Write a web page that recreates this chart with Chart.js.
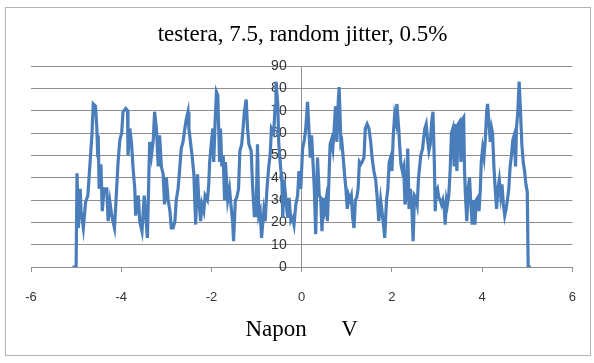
<!DOCTYPE html>
<html>
<head>
<meta charset="utf-8">
<script src="https://cdn.jsdelivr.net/npm/chart.js@4.4.1/dist/chart.umd.min.js"></script>
<style>
body { margin: 0; background: #fff; }
#wrap { position: relative; width: 594px; height: 363px; }
#frame { position: absolute; left: 5px; top: 7px; width: 584px; height: 347px; border: 1px solid #b4b4b4; pointer-events: none; }
</style>
</head>
<body>
<div id="wrap">
  <canvas id="cht" width="594" height="363"></canvas>
  <div id="frame"></div>
</div>
<script>
// napon (V) i broj odbroja, ocitano sa slike
const voltage = [
  -5.08, -5.00, -4.98, -4.95, -4.91, -4.89, -4.84, -4.79, -4.74, -4.69, -4.65, -4.62, -4.57, -4.54, -4.52, -4.51,
  -4.49, -4.45, -4.42, -4.38, -4.32, -4.29, -4.25, -4.21, -4.15, -4.12, -4.07, -4.03, -3.99, -3.96, -3.90, -3.86,
  -3.85, -3.81, -3.77, -3.74, -3.70, -3.68, -3.62, -3.59, -3.54, -3.49, -3.42, -3.40, -3.37, -3.33, -3.29, -3.26,
  -3.22, -3.18, -3.15, -3.11, -3.07, -3.04, -3.00, -2.96, -2.92, -2.89, -2.85, -2.81, -2.78, -2.74, -2.70, -2.67,
  -2.63, -2.59, -2.56, -2.52, -2.50, -2.46, -2.43, -2.39, -2.37, -2.35, -2.31, -2.28, -2.24, -2.21, -2.17, -2.14,
  -2.09, -2.06, -2.04, -2.00, -1.97, -1.95, -1.92, -1.89, -1.86, -1.84, -1.82, -1.80, -1.77, -1.74, -1.71, -1.69,
  -1.67, -1.64, -1.60, -1.56, -1.53, -1.51, -1.47, -1.44, -1.40, -1.37, -1.33, -1.30, -1.27, -1.23, -1.20, -1.17,
  -1.12, -1.09, -1.05, -1.01, -0.98, -0.95, -0.92, -0.89, -0.84, -0.81, -0.77, -0.73, -0.70, -0.67, -0.62, -0.59,
  -0.57, -0.53, -0.51, -0.49, -0.46, -0.44, -0.42, -0.39, -0.35, -0.31, -0.28, -0.24, -0.20, -0.17, -0.13, -0.09,
  -0.06, -0.02, 0.02, 0.06, 0.09, 0.13, 0.16, 0.19, 0.22, 0.25, 0.28, 0.31, 0.35, 0.39, 0.42, 0.45,
  0.48, 0.51, 0.54, 0.57, 0.60, 0.63, 0.66, 0.69, 0.72, 0.75, 0.78, 0.81, 0.83, 0.87, 0.89, 0.92,
  0.95, 0.98, 1.01, 1.04, 1.07, 1.10, 1.13, 1.16, 1.19, 1.22, 1.25, 1.28, 1.31, 1.34, 1.38, 1.41,
  1.45, 1.49, 1.53, 1.56, 1.60, 1.64, 1.67, 1.71, 1.75, 1.78, 1.82, 1.84, 1.88, 1.91, 1.94, 1.97,
  2.00, 2.03, 2.06, 2.09, 2.11, 2.15, 2.17, 2.20, 2.23, 2.26, 2.29, 2.32, 2.35, 2.38, 2.41, 2.44,
  2.47, 2.50, 2.53, 2.56, 2.59, 2.62, 2.64, 2.68, 2.70, 2.73, 2.76, 2.79, 2.82, 2.85, 2.88, 2.91,
  2.94, 2.96, 2.98, 3.01, 3.04, 3.07, 3.10, 3.13, 3.16, 3.18, 3.21, 3.23, 3.26, 3.29, 3.32, 3.35,
  3.38, 3.41, 3.44, 3.47, 3.50, 3.53, 3.56, 3.59, 3.61, 3.63, 3.66, 3.69, 3.72, 3.75, 3.78, 3.81,
  3.84, 3.87, 3.90, 3.93, 3.96, 3.98, 4.01, 4.04, 4.07, 4.10, 4.12, 4.15, 4.18, 4.21, 4.23, 4.26,
  4.29, 4.32, 4.35, 4.38, 4.41, 4.44, 4.47, 4.50, 4.53, 4.56, 4.59, 4.62, 4.65, 4.68, 4.71, 4.74,
  4.76, 4.79, 4.82, 4.85, 4.88, 4.91, 4.94, 4.97, 5.00, 5.02, 5.08
];
const counts = [
  0, 0, 42, 17.5, 35, 25, 17.5, 29, 32, 47, 59, 73, 72, 62, 49, 59,
  35, 46, 25, 35, 35, 20.5, 29, 23, 17.5, 28, 47, 57, 60, 69.5, 71, 70,
  50, 62, 55, 45, 35, 23, 32, 20.5, 16, 32, 13, 30, 56, 50, 57, 69.5,
  62, 45, 59, 45, 41.5, 28, 40, 30, 25, 17.5, 17.5, 20.5, 30, 35, 45, 53,
  56, 62, 66, 69.5, 62, 55, 50, 41.5, 30, 19, 41.5, 30, 20.5, 28, 25, 32,
  30, 37, 47, 56, 62, 47, 64.5, 78.5, 77, 62, 47, 62, 45, 50, 30, 47,
  40, 30, 35, 26, 20, 11.6, 30, 31, 35, 52, 55, 62, 69.5, 75, 62, 55,
  52, 37, 23, 23, 55, 23, 25, 13, 25, 20.5, 35, 45, 50, 62, 60, 72,
  83, 73, 56, 50, 43, 40, 22, 39, 30, 22, 31, 20.5, 22, 19, 28, 32,
  43, 35, 53, 57, 62, 74, 62, 49, 59, 47, 35, 14.7, 49, 32, 31, 16,
  31, 26, 30, 20.5, 37, 55, 57, 53, 62, 72, 56, 74, 80.6, 55, 56, 49,
  41.5, 35, 26, 32, 30, 32, 22, 17.5, 30, 31, 35, 47, 46, 47, 49, 62,
  64, 62, 56, 49, 43, 39, 32, 20.5, 30, 25, 17.5, 13, 30, 35, 47, 49,
  43, 59, 68, 65, 73, 62, 55, 46, 43, 45, 28, 32, 53, 26, 35, 28,
  11.6, 32, 31, 28, 40, 46, 50, 53, 57, 62, 64, 57, 52, 55, 65, 69.5,
  47, 25, 33.6, 35, 31, 30, 28, 30, 26, 19, 30, 28, 32, 43, 60, 62,
  45, 64, 43, 64, 65, 47, 66, 67, 43, 32, 20.5, 35, 40, 28, 19, 30,
  19, 30, 31, 25, 35, 47, 53, 49, 57, 69.5, 73, 65, 56, 62, 60, 45,
  35, 26, 35, 39, 32, 37, 28, 23, 26, 30, 35, 45, 50, 57, 59, 45,
  62, 69.5, 83, 69.5, 55, 47, 43, 37, 33.6, 0, 0
];
const xTicks = [-6, -4, -2, 0, 2, 4, 6];
const yTicks = [0, 10, 20, 30, 40, 50, 60, 70, 80, 90];

const points = voltage.map((v, i) => ({ x: v, y: counts[i] }));
const gridGray = '#8f8f8f';
const labelFont = { family: 'Liberation Sans', size: 13 };

// oznake y ose levo od ose na x = 0 (Chart.js tu ne primenjuje padding)
const yLabelPlugin = {
  id: 'yLabels',
  beforeDatasetsDraw(c) {
    const ctx = c.ctx;
    const xs = c.scales.x, ys = c.scales.y;
    const x0 = xs.getPixelForValue(0) - 15;
    ctx.save();
    ctx.font = '14px "Liberation Sans"';
    ctx.fillStyle = '#333';
    ctx.textAlign = 'right';
    ctx.textBaseline = 'middle';
    yTicks.forEach(v => ctx.fillText(String(v), x0, ys.getPixelForValue(v)));
    ctx.restore();
  }
};

const cht = document.getElementById('cht');
const chart = new Chart(cht, {
  type: 'scatter',
  data: {
    datasets: [{
      data: points,
      showLine: true,
      borderColor: '#4a7ebb',
      borderWidth: 3.2,
      pointRadius: 0,
      tension: 0
    }]
  },
  options: {
    responsive: false,
    animation: false,
    layout: { padding: { left: 31, right: 20, top: 0, bottom: 0 } },
    plugins: {
      legend: { display: false },
      tooltip: { enabled: false },
      title: {
        display: true,
        text: 'testera, 7.5, random jitter, 0.5%',
        color: '#000',
        font: { family: 'Liberation Serif', size: 23, weight: 'normal' },
        padding: { top: 21, bottom: 17.4 }
      }
    },
    scales: {
      x: {
        type: 'linear',
        min: -6,
        max: 6,
        afterBuildTicks: s => { s.ticks = xTicks.map(v => ({ value: v })); },
        afterFit: s => { s.height = 96; },
        grid: { drawOnChartArea: false, drawTicks: true, tickLength: 5, color: gridGray },
        border: { display: true, color: gridGray },
        ticks: { color: '#333', font: labelFont, padding: 18, maxRotation: 0 },
        title: {
          display: true,
          text: 'Napon      V',
          color: '#000',
          font: { family: 'Liberation Serif', size: 23, weight: 'normal' },
          padding: { top: 0, bottom: 19 }
        }
      },
      y: {
        type: 'linear',
        position: { x: 0 },
        min: 0,
        max: 90,
        afterBuildTicks: s => { s.ticks = yTicks.map(v => ({ value: v })); },
        grid: { color: gridGray, drawTicks: false },
        border: { display: true, color: gridGray },
        ticks: { display: false }
      }
    }
  },
  plugins: [yLabelPlugin]
});
</script>
</body>
</html>
